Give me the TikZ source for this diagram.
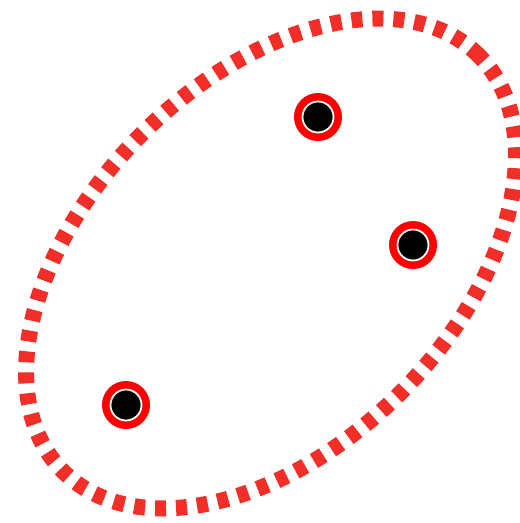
\documentclass[tikz,border=0pt]{standalone}
\usetikzlibrary{calc}
\definecolor{hullred}{RGB}{242,46,40}
\tikzset{
  hull/.style={draw=hullred, line width=16pt, dash pattern=on 11pt off 10pt},
  ringdot/.style={circle, fill=black, draw=white, line width=1.8pt, minimum size=31pt, inner sep=0pt},
}
\begin{document}
\begin{tikzpicture}[x=1pt,y=-1pt]
\useasboundingbox (0,0) rectangle (520,523);
\coordinate (c) at (271,263.5);
\draw[hull, rotate around={45:(c)}] (c) ellipse [x radius=294pt, y radius=183pt];
\foreach \n/\p in {p1/{(318,117)}, p2/{(413,245)}, p3/{(126,405)}}{
  \fill[red] \p circle (24pt);
  \node[ringdot] (\n) at \p {};
}
\end{tikzpicture}
\end{document}
